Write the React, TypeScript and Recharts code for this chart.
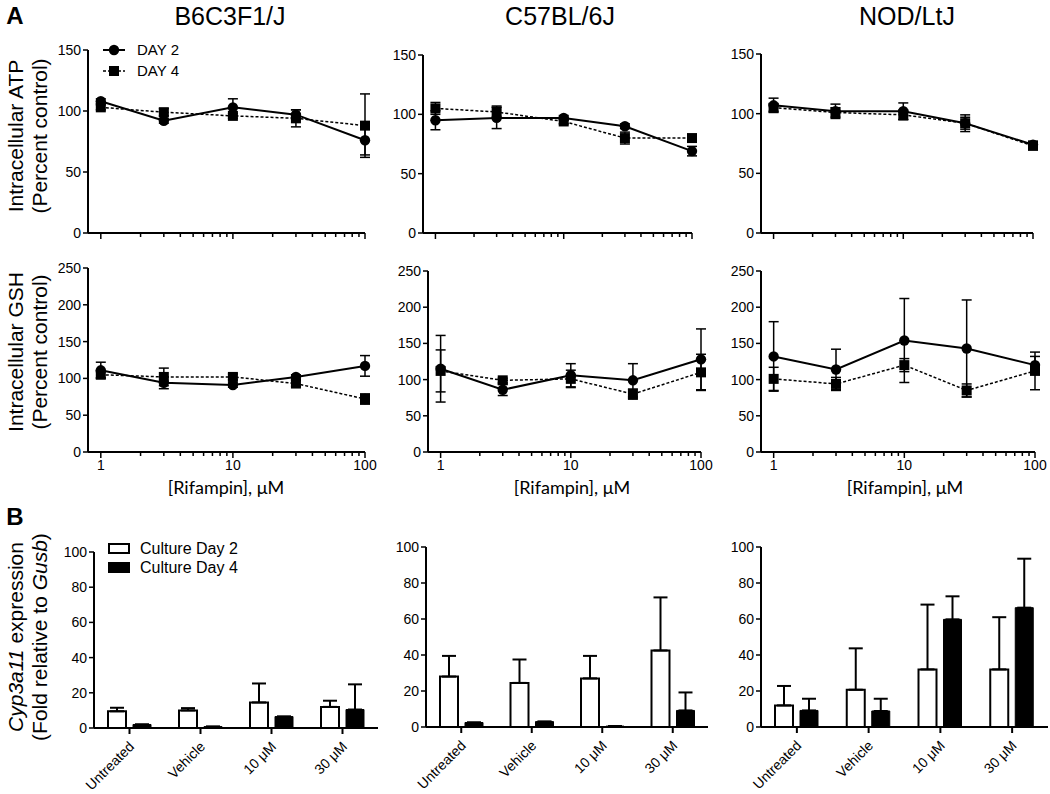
import React from "react";
import { Bar, BarChart, ErrorBar, Legend, Line, LineChart, XAxis, YAxis } from "recharts";

const FONT = "'Liberation Sans', Arial, sans-serif";
const LABEL_FONT = "Lato, 'Open Sans', sans-serif";

const STRAINS = ["B6C3F1/J", "C57BL/6J", "NOD/LtJ"];
const CONCENTRATIONS = [1, 3, 10, 30, 100];
const LOG_TICKS = [1, 2, 3, 4, 5, 6, 7, 8, 9, 10, 20, 30, 40, 50, 60, 70, 80, 90, 100];
const ATP_TICKS = [0, 50, 100, 150];
const GSH_TICKS = [0, 50, 100, 150, 200, 250];
const EXPR_TICKS = [0, 20, 40, 60, 80, 100];
const TREATMENTS = ["Untreated", "Vehicle", "10 μM", "30 μM"];

// intracellular ATP, percent control — one row per strain
const ATP_DAY2 = [
  [108, 92, 103, 97, 76],
  [95, 97, 97, 90, 69],
  [107, 102, 102, 92, 74],
];
const ATP_DAY2_ERR = [
  [2, 2, 7, 4, 12],
  [8, 9, 2, 2, 4],
  [6, 6, 7, 7, 3],
];
const ATP_DAY4 = [
  [103, 99, 96, 94, 88],
  [105, 102, 94, 80, 80],
  [105, 101, 99, 92, 73],
];
const ATP_DAY4_ERR = [
  [2, 3, 2, 7, 26],
  [5, 5, 2, 5, 2],
  [3, 4, 4, 5, 2],
];

// intracellular GSH, percent control
const GSH_DAY2 = [
  [111, 94, 91, 102, 117],
  [115, 86, 106, 99, 128],
  [132, 114, 154, 143, 120],
];
const GSH_DAY2_ERR = [
  [11, 8, 3, 3, 14],
  [46, 8, 16, 23, 42],
  [48, 28, 58, 67, 12],
];
const GSH_DAY4 = [
  [105, 102, 102, 93, 72],
  [112, 99, 101, 80, 110],
  [101, 94, 120, 85, 112],
];
const GSH_DAY4_ERR = [
  [4, 12, 4, 4, 7],
  [29, 3, 12, 7, 25],
  [16, 9, 9, 9, 26],
];

// Cyp3a11 expression, fold relative to Gusb
const EXPR_DAY2 = [
  [9.5, 10, 14.5, 12],
  [28, 24.5, 27, 42.5],
  [12, 20.7, 32, 32],
];
const EXPR_DAY2_ERR = [
  [2, 1.3, 10.8, 3.5],
  [11.5, 13, 12.5, 29.5],
  [10.8, 23, 36, 29],
];
const EXPR_DAY4 = [
  [2, 0.8, 6.5, 10.5],
  [2.5, 3, 0.5, 9.2],
  [9.2, 8.9, 59.8, 66.3],
];
const EXPR_DAY4_ERR = [
  [0, 0, 0, 14.3],
  [0, 0, 0, 10],
  [6.5, 6.8, 12.8, 27.2],
];

// plot rectangles (page pixels)
const ATP_BOXES = [
  { x0: 88, x1: 365, yT: 50, yB: 233 },
  { x0: 423, x1: 692, yT: 55, yB: 233 },
  { x0: 761, x1: 1033, yT: 54, yB: 233 },
];
const GSH_BOXES = [
  { x0: 88, x1: 365, yT: 268, yB: 452 },
  { x0: 428, x1: 701, yT: 271, yB: 452 },
  { x0: 761, x1: 1035, yT: 271, yB: 452 },
];
const EXPR_BOXES = [
  { x0: 94, x1: 378, yT: 552, yB: 728 },
  { x0: 426, x1: 708, yT: 547, yB: 727 },
  { x0: 761, x1: 1048, yT: 547, yB: 727 },
];

const doseRows = (d2: number[], e2: number[], d4: number[], e4: number[]) =>
  CONCENTRATIONS.map((c, i) => ({ conc: c, day2: d2[i], day2Err: e2[i], day4: d4[i], day4Err: e4[i] }));

const exprRows = (s: number) =>
  TREATMENTS.map((t, i) => ({
    treatment: t,
    day2: EXPR_DAY2[s][i],
    day2Err: [0, EXPR_DAY2_ERR[s][i]],
    day4: EXPR_DAY4[s][i],
    day4Err: [0, EXPR_DAY4_ERR[s][i]],
  }));

const axisStyle = { stroke: "#000", strokeWidth: 2 };
const tickStyle = { fill: "#000", fontSize: 14, fontFamily: FONT };

const CircleDot = (props: any) => {
  const { cx, cy } = props;
  if (cx == null || cy == null) return null;
  return <circle cx={cx} cy={cy} r={5.2} fill="#000" />;
};

const SquareDot = (props: any) => {
  const { cx, cy } = props;
  if (cx == null || cy == null) return null;
  return <rect x={cx - 5} y={cy - 5} width={10} height={10} fill="#000" />;
};

const LogTick = (props: any) => {
  const { x, y, payload, showLabels } = props;
  const v = payload.value;
  const major = v === 1 || v === 10 || v === 100;
  return (
    <g>
      <line x1={x} x2={x} y1={y} y2={y + (major ? 6 : 4)} stroke="#000" strokeWidth={1.5} />
      {major && showLabels && (
        <text x={x} y={y + 8} dy="0.71em" textAnchor="middle" fontSize={14} fontFamily={FONT} fill="#000">
          {v}
        </text>
      )}
    </g>
  );
};

const RotTick = (props: any) => {
  const { x, y, payload } = props;
  const ax = x + 2;
  const ay = y + 8;
  return (
    <text
      x={ax}
      y={ay}
      dy="0.35em"
      textAnchor="end"
      transform={`rotate(-45, ${ax}, ${ay})`}
      fontSize={14}
      fontFamily={FONT}
      fill="#000"
    >
      {payload.value}
    </text>
  );
};

const DayLegend = () => (
  <svg width={100} height={44} style={{ display: "block" }}>
    <line x1={8} x2={30} y1={10} y2={10} stroke="#000" strokeWidth={2} />
    <circle cx={19} cy={10} r={5.2} fill="#000" />
    <text x={42} y={10} dy="0.35em" fontSize={15} fontFamily={FONT} fill="#000">DAY 2</text>
    <line x1={8} x2={30} y1={31} y2={31} stroke="#000" strokeWidth={1.5} strokeDasharray="3 2" />
    <rect x={14} y={26} width={10} height={10} fill="#000" />
    <text x={42} y={31} dy="0.35em" fontSize={15} fontFamily={FONT} fill="#000">DAY 4</text>
  </svg>
);

const CultureLegend = () => (
  <svg width={150} height={40} style={{ display: "block" }}>
    <rect x={9} y={4} width={20} height={9} fill="#fff" stroke="#000" strokeWidth={2} />
    <text x={40} y={8} dy="0.35em" fontSize={16} fontFamily={FONT} fill="#000">Culture Day 2</text>
    <rect x={8} y={22} width={22} height={11} fill="#000" />
    <text x={40} y={27} dy="0.35em" fontSize={16} fontFamily={FONT} fill="#000">Culture Day 4</text>
  </svg>
);

function DoseChart({ box, data, max, ticks, showLabels, legend }: any) {
  const yw = 50;
  const top = 12;
  const right = 16;
  const xh = 30;
  const width = box.x1 - box.x0 + yw + right;
  const height = box.yB - box.yT + top + xh;
  return (
    <div style={{ position: "absolute", left: box.x0 - yw, top: box.yT - top }}>
      <LineChart width={width} height={height} data={data} margin={{ top, right, left: 0, bottom: 0 }}>
        <XAxis
          dataKey="conc"
          type="number"
          scale="log"
          domain={[0.8, 100]}
          ticks={LOG_TICKS}
          interval={0}
          tickLine={false}
          tickSize={0}
          tickMargin={0}
          tick={<LogTick showLabels={showLabels} />}
          axisLine={axisStyle}
          height={xh}
        />
        <YAxis
          type="number"
          domain={[0, max]}
          ticks={ticks}
          interval={0}
          width={yw}
          tickSize={5}
          tickMargin={2}
          tick={tickStyle}
          axisLine={axisStyle}
          tickLine={{ stroke: "#000", strokeWidth: 1.5 }}
        />
        {legend && (
          <Legend
            layout="vertical"
            align="center"
            verticalAlign="middle"
            content={() => <DayLegend />}
            wrapperStyle={{ left: 57, top: 2, width: 100 }}
          />
        )}
        <Line
          name="DAY 2"
          dataKey="day2"
          stroke="#000"
          strokeWidth={2}
          dot={<CircleDot />}
          activeDot={false}
          isAnimationActive={false}
        >
          <ErrorBar dataKey="day2Err" direction="y" width={5} stroke="#000" strokeWidth={1.5} />
        </Line>
        <Line
          name="DAY 4"
          dataKey="day4"
          stroke="#000"
          strokeWidth={1.5}
          strokeDasharray="3 2"
          dot={<SquareDot />}
          activeDot={false}
          isAnimationActive={false}
        >
          <ErrorBar dataKey="day4Err" direction="y" width={5} stroke="#000" strokeWidth={1.5} />
        </Line>
      </LineChart>
    </div>
  );
}

function ExprChart({ box, data, legend }: any) {
  const yw = 50;
  const top = 12;
  const right = 2;
  const xh = 76;
  const width = box.x1 - box.x0 + yw + right;
  const height = box.yB - box.yT + top + xh;
  return (
    <div style={{ position: "absolute", left: box.x0 - yw, top: box.yT - top }}>
      <BarChart
        width={width}
        height={height}
        data={data}
        margin={{ top, right, left: 0, bottom: 0 }}
        barSize={18}
        barGap={7}
      >
        <XAxis
          dataKey="treatment"
          type="category"
          interval={0}
          tickSize={6}
          tickLine={{ stroke: "#000", strokeWidth: 2 }}
          axisLine={axisStyle}
          tick={<RotTick />}
          height={xh}
        />
        <YAxis
          type="number"
          domain={[0, 100]}
          ticks={EXPR_TICKS}
          interval={0}
          width={yw}
          tickSize={5}
          tickMargin={2}
          tick={tickStyle}
          axisLine={axisStyle}
          tickLine={{ stroke: "#000", strokeWidth: 1.5 }}
        />
        {legend && (
          <Legend
            layout="vertical"
            align="center"
            verticalAlign="middle"
            content={() => <CultureLegend />}
            wrapperStyle={{ left: 56, top: 0, width: 150 }}
          />
        )}
        <Bar name="Culture Day 2" dataKey="day2" fill="#fff" stroke="#000" strokeWidth={2} isAnimationActive={false}>
          <ErrorBar dataKey="day2Err" direction="y" width={7} stroke="#000" strokeWidth={2} />
        </Bar>
        <Bar name="Culture Day 4" dataKey="day4" fill="#000" stroke="#000" strokeWidth={1} isAnimationActive={false}>
          <ErrorBar dataKey="day4Err" direction="y" width={7} stroke="#000" strokeWidth={2} />
        </Bar>
      </BarChart>
    </div>
  );
}

const TITLE_X = [230, 560, 907];
const XLABEL_X = [226, 572, 905];

export default function App() {
  return (
    <div style={{ position: "absolute", left: 0, top: 0, width: 1050, height: 794, background: "#fff" }}>
      {STRAINS.map((s, i) => (
        <DoseChart
          key={`atp-${s}`}
          box={ATP_BOXES[i]}
          data={doseRows(ATP_DAY2[i], ATP_DAY2_ERR[i], ATP_DAY4[i], ATP_DAY4_ERR[i])}
          max={150}
          ticks={ATP_TICKS}
          showLabels={false}
          legend={i === 0}
        />
      ))}
      {STRAINS.map((s, i) => (
        <DoseChart
          key={`gsh-${s}`}
          box={GSH_BOXES[i]}
          data={doseRows(GSH_DAY2[i], GSH_DAY2_ERR[i], GSH_DAY4[i], GSH_DAY4_ERR[i])}
          max={250}
          ticks={GSH_TICKS}
          showLabels
          legend={false}
        />
      ))}
      {STRAINS.map((s, i) => (
        <ExprChart key={`expr-${s}`} box={EXPR_BOXES[i]} data={exprRows(i)} legend={i === 0} />
      ))}

      <svg width={1050} height={794} style={{ position: "absolute", left: 0, top: 0, pointerEvents: "none" }}>
        <text x={15} y={16} dy="0.35em" textAnchor="middle" fontSize={24} fontWeight="bold" fontFamily={FONT}>A</text>
        <text x={15} y={517} dy="0.35em" textAnchor="middle" fontSize={24} fontWeight="bold" fontFamily={FONT}>B</text>
        {STRAINS.map((s, i) => (
          <text key={s} x={TITLE_X[i]} y={16} dy="0.35em" textAnchor="middle" fontSize={25} fontFamily={FONT}>
            {s}
          </text>
        ))}
        {XLABEL_X.map((x) => (
          <text key={x} x={x} y={488} dy="0.35em" textAnchor="middle" fontSize={18} fontFamily={LABEL_FONT}>
            [Rifampin], μM
          </text>
        ))}
        <g fontSize={21} fontFamily={FONT} textAnchor="middle">
          <text transform="translate(23,136) rotate(-90)">Intracellular ATP</text>
          <text transform="translate(47,136) rotate(-90)">(Percent control)</text>
          <text transform="translate(23,352) rotate(-90)">Intracellular GSH</text>
          <text transform="translate(47,352) rotate(-90)">(Percent control)</text>
          <text transform="translate(23,637) rotate(-90)">
            <tspan fontStyle="italic">Cyp3a11</tspan> expression
          </text>
          <text transform="translate(47,637) rotate(-90)">
            (Fold relative to <tspan fontStyle="italic">Gusb</tspan>)
          </text>
        </g>
      </svg>
    </div>
  );
}
